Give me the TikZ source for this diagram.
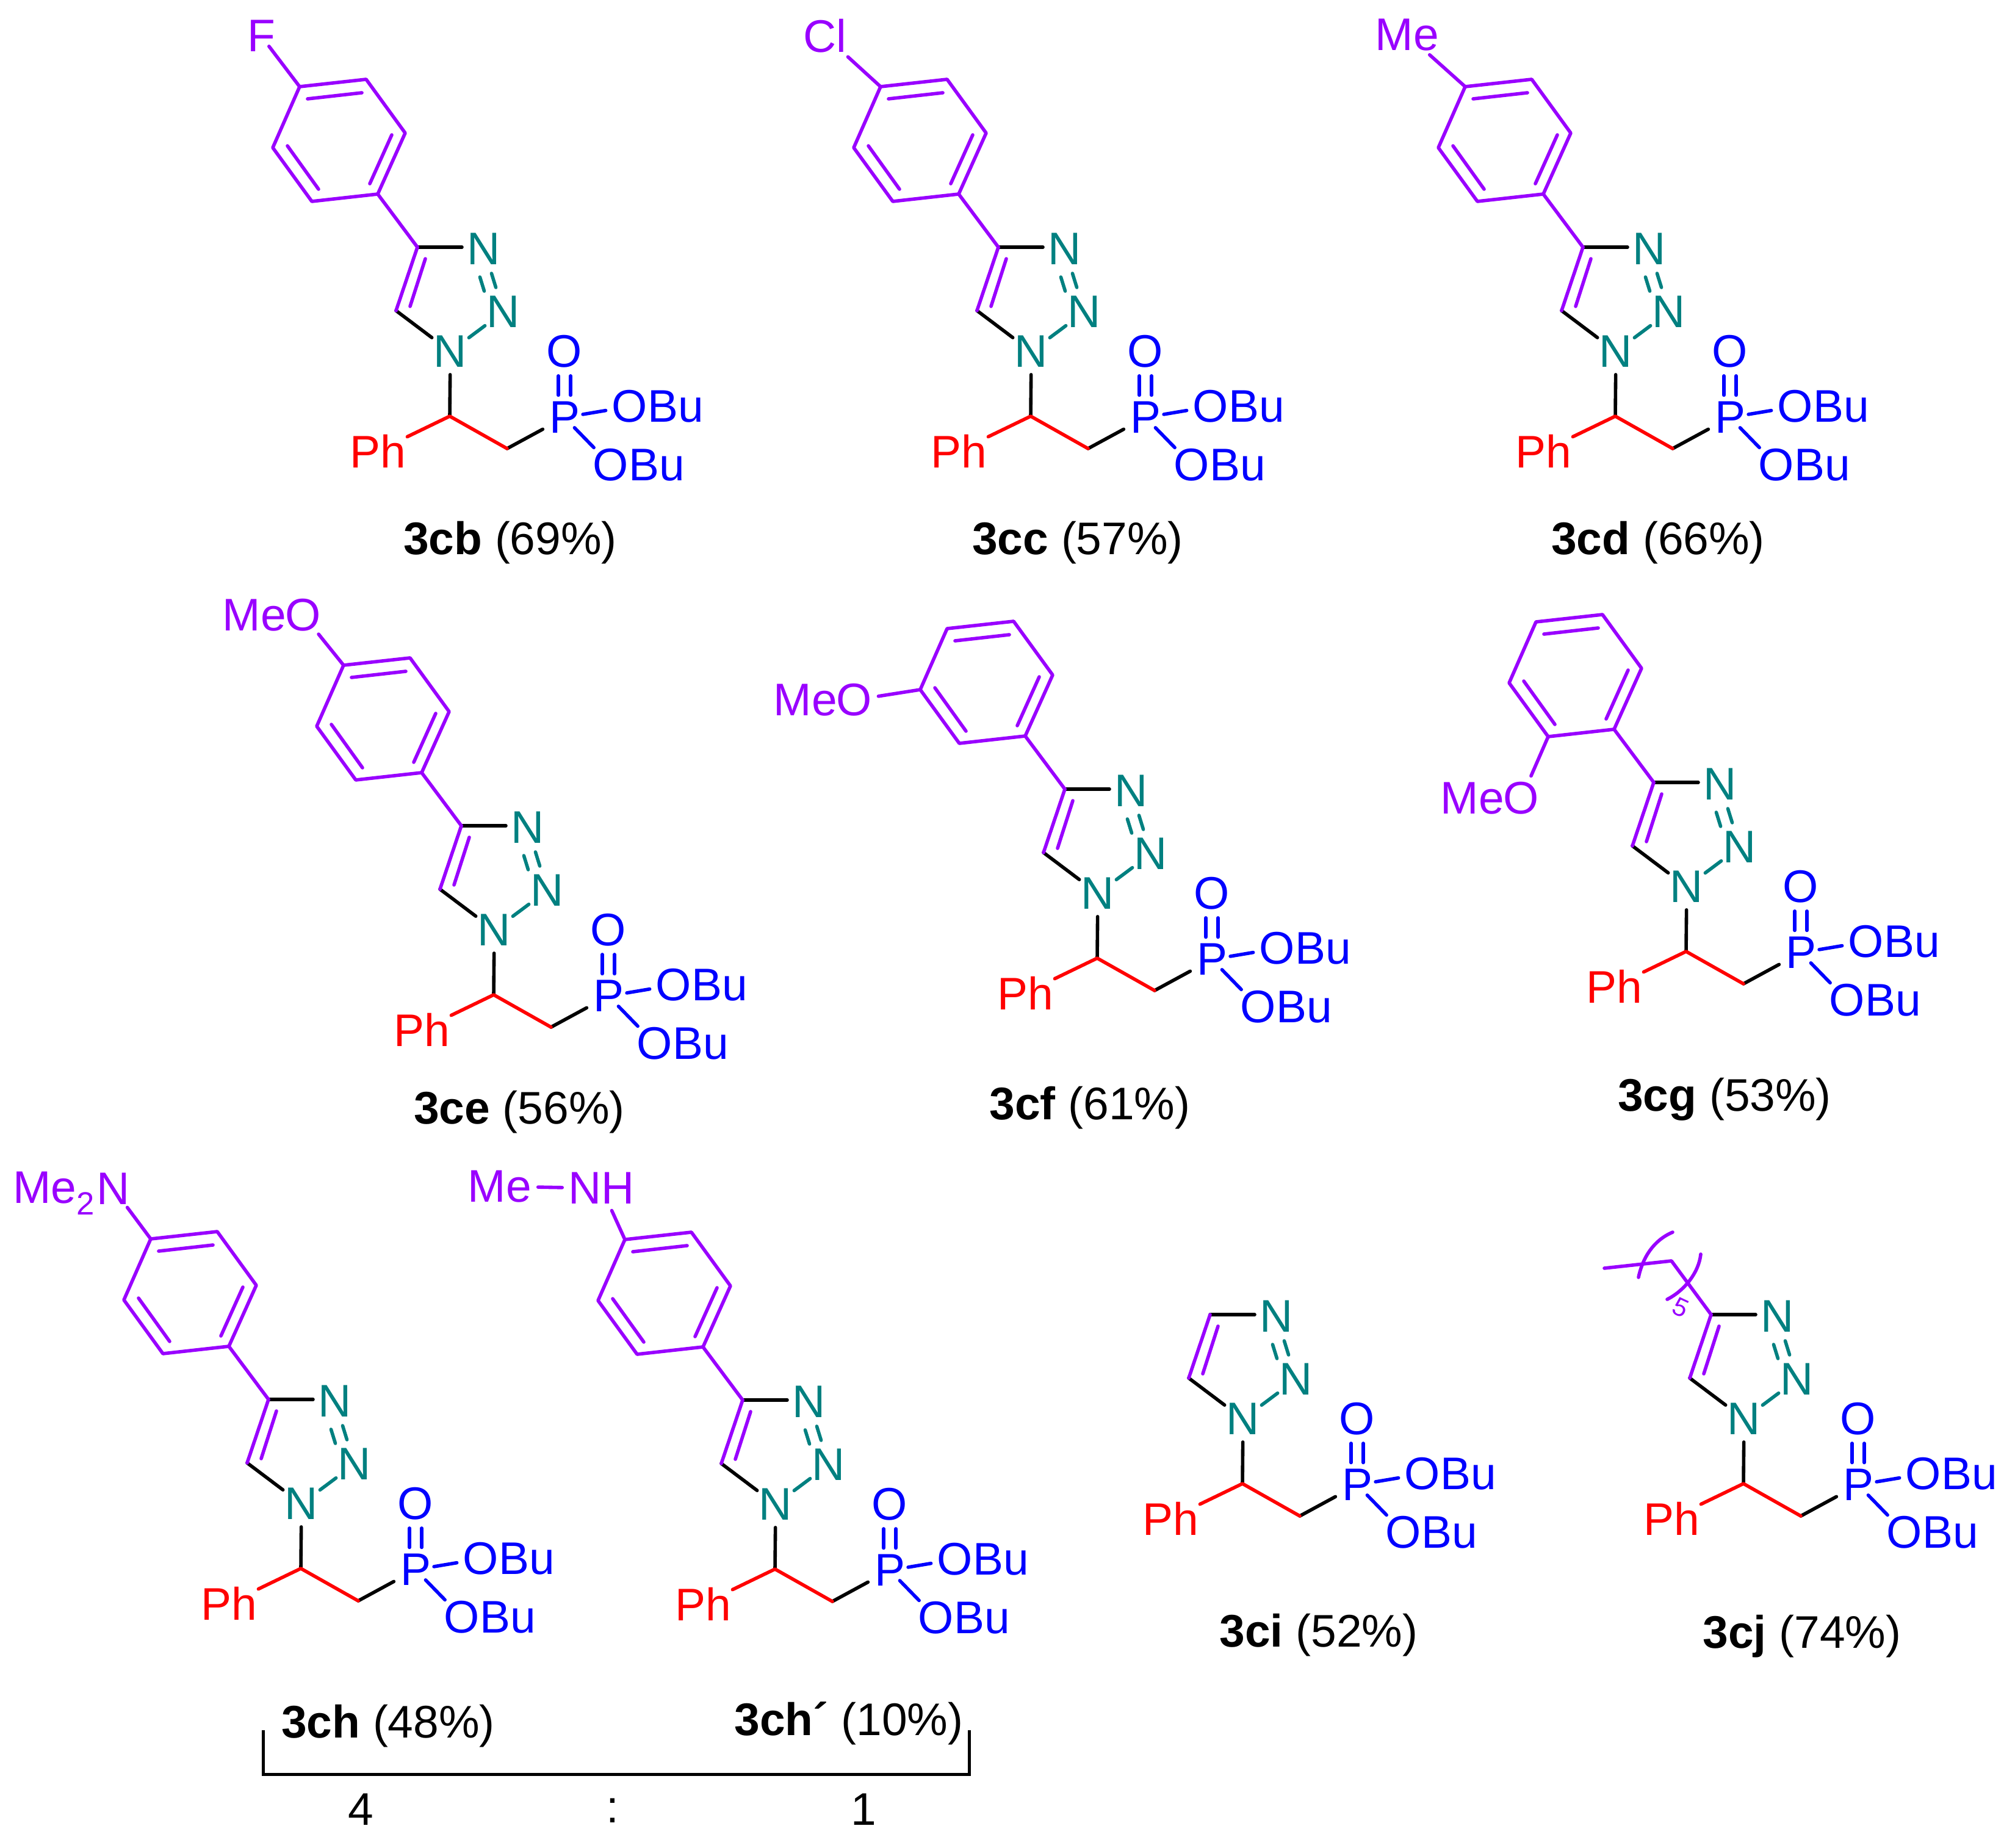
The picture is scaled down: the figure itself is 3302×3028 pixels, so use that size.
\documentclass[tikz,border=0pt]{standalone}
\usepackage{fontspec}
\setmainfont{Liberation Sans}
\usetikzlibrary{calc}
\definecolor{arylc}{RGB}{153,0,255}
\definecolor{azolec}{RGB}{0,128,128}
\definecolor{phosc}{RGB}{0,0,255}
\definecolor{phenc}{RGB}{255,0,0}
\tikzset{bond/.style={draw, line width=0.056cm, line cap=round, line join=round}}
\tikzset{atom/.style={circle, inner sep=0pt, font=\fontsize{21.3}{25}\selectfont}}
\tikzset{word/.style={rectangle, inner sep=0pt, font=\fontsize{21.3}{25}\selectfont}}

\newcommand{\triazolecore}[3]{
\begin{scope}[shift={(#2,#3)}]
\coordinate (#1ch) at (0,0);
\coordinate (#1ct) at (94,53);
\coordinate (#1c4) at (-53,-277);
\coordinate (#1c5) at (-88,-173);
\coordinate (#1ia) at (-40,-258);
\coordinate (#1ib) at (-65,-180);
\node [atom, azolec] (#1n1) at (1,-106) {N};
\node [atom, azolec] (#1n2) at (88,-171) {N};
\node [atom, azolec] (#1n3) at (56,-274) {N};
\node [atom, phenc] (#1ph) at (-118,57) {Ph};
\node [atom, phosc] (#1p) at (188,2) {P};
\node [atom, phosc] (#1o) at (188,-106) {O};
\node [atom, phosc] (#1oa) at (295,-16) {O};
\node [word, phosc] (#1ba) at (370,-16) {Bu};
\node [atom, phosc] (#1ob) at (264,80) {O};
\node [word, phosc] (#1bb) at (339,80) {Bu};
\path [bond, black, shorten >=0.36cm] (#1c4) -- (#1c4 -| #1n3);
\path [bond, black] (#1c5) -- (#1n1);
\path [bond, black] (#1n1) -- (#1ch);
\path [bond, black, shorten >=0.04cm] (#1ct) -- (#1p);
\path [bond, arylc] (#1c4) -- (#1c5);
\path [bond, arylc] (#1ia) -- (#1ib);
\path [bond, azolec] (#1n1) -- (#1n2);
\path [bond, azolec, shorten <=0.04cm, shorten >=0.04cm] (#1n3) -- (#1n2);
\path [bond, azolec, shorten <=0.04cm, shorten >=0.04cm, transform canvas={shift={(-0.19cm,-0.06cm)}}] (#1n3) -- (#1n2);
\path [bond, phenc] (#1ph) -- (#1ch) -- (#1ct);
\path [bond, phosc, shorten <=-0.06cm] (#1p) -- (#1oa);
\path [bond, phosc, shorten <=-0.13cm] (#1p) -- (#1ob);
\path [bond, phosc, transform canvas={xshift=-0.1cm}] (#1p) -- (#1o);
\path [bond, phosc, transform canvas={xshift=0.1cm}] (#1p) -- (#1o);
\end{scope}
}

\newcommand{\arylring}[3]{
\begin{scope}[shift={(#2-53,#3-275)}]
\coordinate (#1r1) at (-65,-89);
\coordinate (#1r2) at (-173,-77);
\coordinate (#1r3) at (-237,-165);
\coordinate (#1r4) at (-193,-265);
\coordinate (#1r5) at (-84,-277);
\coordinate (#1r6) at (-20,-189);
\coordinate (#1da) at (-180,-245);
\coordinate (#1db) at (-91,-255);
\coordinate (#1dc) at (-42,-186);
\coordinate (#1dd) at (-78,-106);
\coordinate (#1de) at (-162,-97);
\coordinate (#1df) at (-213,-168);
\path [bond, arylc] (#1r1) -- (#1r2) -- (#1r3) -- (#1r4) -- (#1r5) -- (#1r6) -- cycle;
\path [bond, arylc] (#1da) -- (#1db);
\path [bond, arylc] (#1dc) -- (#1dd);
\path [bond, arylc] (#1de) -- (#1df);
\path [bond, arylc] (#1r1) -- (#1c4);
\end{scope}
}

\begin{document}
\begin{tikzpicture}[x=0.01cm, y=-0.01cm]
\tikzstyle{tag} = [rectangle, inner sep=0pt, font=\fontsize{21.3}{25}\selectfont]
\useasboundingbox (0,0) rectangle (3302,3028);

\triazolecore{cb}{737}{682}
\arylring{cb}{737}{682}
\node [word, arylc] (cbf) at (428,59) {F};
\path [bond, arylc, shorten >=-0.12cm] (cbr4) -- (cbf);
\node [tag] (cbcap) at (836,889) {\textbf{3cb} (69\%)};

\triazolecore{cc}{1689}{682}
\arylring{cc}{1689}{682}
\node [word, arylc, inner sep=0.06cm] (cccl) at (1352,59) {Cl};
\path [bond, arylc] (ccr4) -- (cccl);
\node [tag] (cccap) at (1766,889) {\textbf{3cc} (57\%)};

\triazolecore{cd}{2647}{682}
\arylring{cd}{2647}{682}
\node [word, arylc, inner sep=0.06cm] (cdme) at (2306,57) {Me};
\path [bond, arylc] (cdr4) -- (cdme);
\node [tag] (cdcap) at (2717,889) {\textbf{3cd} (66\%)};

\triazolecore{ce}{809}{1630}
\arylring{ce}{809}{1630}
\node [atom, arylc] (ceo) at (497,1008) {O};
\node [word, arylc] (ceme) at (417,1008) {Me};
\path [bond, arylc] (cer4) -- (ceo);
\node [tag] (cecap) at (851,1822) {\textbf{3ce} (56\%)};

\triazolecore{cf}{1798}{1570}
\arylring{cf}{1798}{1570}
\node [atom, arylc] (cfo) at (1400,1147) {O};
\node [word, arylc] (cfme) at (1320,1147) {Me};
\path [bond, arylc] (cfr3) -- (cfo);
\node [tag] (cfcap) at (1786,1815) {\textbf{3cf} (61\%)};

\triazolecore{cg}{2763}{1559}
\arylring{cg}{2763}{1559}
\node [atom, arylc] (cgo) at (2493,1308) {O};
\node [word, arylc] (cgme) at (2413,1308) {Me};
\path [bond, arylc] (cgr2) -- (cgo);
\node [tag] (cgcap) at (2826,1801) {\textbf{3cg} (53\%)};

\triazolecore{ch}{493}{2570}
\arylring{ch}{493}{2570}
\node [atom, arylc] (chn) at (186,1948) {N};
\node [word, arylc] (chme) at (88,1955) {Me\raisebox{-0.25em}{\fontsize{15}{15}\selectfont 2}};
\path [bond, arylc] (chr4) -- (chn);
\node [tag] (chcap) at (636,2828) {\textbf{3ch} (48\%)};

\triazolecore{cx}{1270}{2571}
\arylring{cx}{1270}{2571}
\node [word, arylc, inner sep=0.1cm] (cxnh) at (986,1947) {NH};
\node [word, arylc, inner sep=0.1cm] (cxme) at (819,1944) {Me};
\path [bond, arylc] (cxr4) -- (cxnh);
\path [bond, arylc] (cxme) -- (cxnh);
\node [tag] (cxcap) at (1391,2824) {\textbf{3ch´} (10\%)};

\triazolecore{ci}{2036}{2431}
\node [tag] (cicap) at (2161,2679) {\textbf{3ci} (52\%)};

\triazolecore{cj}{2857}{2431}
\coordinate (cjca) at (2739,2066);
\coordinate (cjcb) at (2629,2078);
\coordinate (cjua) at (2741,2019);
\coordinate (cjub) at (2685,2093);
\coordinate (cjva) at (2787,2055);
\coordinate (cjvb) at (2732,2129);
\path [bond, arylc] (cjc4) -- (cjca) -- (cjcb);
\path [bond, arylc] (cjua) .. controls (2710,2032) and (2692,2060) .. (cjub);
\path [bond, arylc] (cjva) .. controls (2784,2085) and (2760,2115) .. (cjvb);
\node [rectangle, inner sep=0pt, arylc, rotate=-25, font=\fontsize{12}{14}\selectfont] (cjn) at (2754,2142) {5};
\node [tag] (cjcap) at (2953,2681) {\textbf{3cj} (74\%)};

\coordinate (brla) at (431,2835);
\coordinate (brlb) at (431,2907);
\coordinate (brrb) at (1588,2907);
\coordinate (brra) at (1588,2835);
\path [draw, line width=0.05cm] (brla) -- (brlb) -- (brrb) -- (brra);
\node [tag] (ratioa) at (591,2965) {4};
\node [tag] (ratiob) at (1004,2967) {:};
\node [tag] (ratioc) at (1415,2965) {1};
\end{tikzpicture}
\end{document}
